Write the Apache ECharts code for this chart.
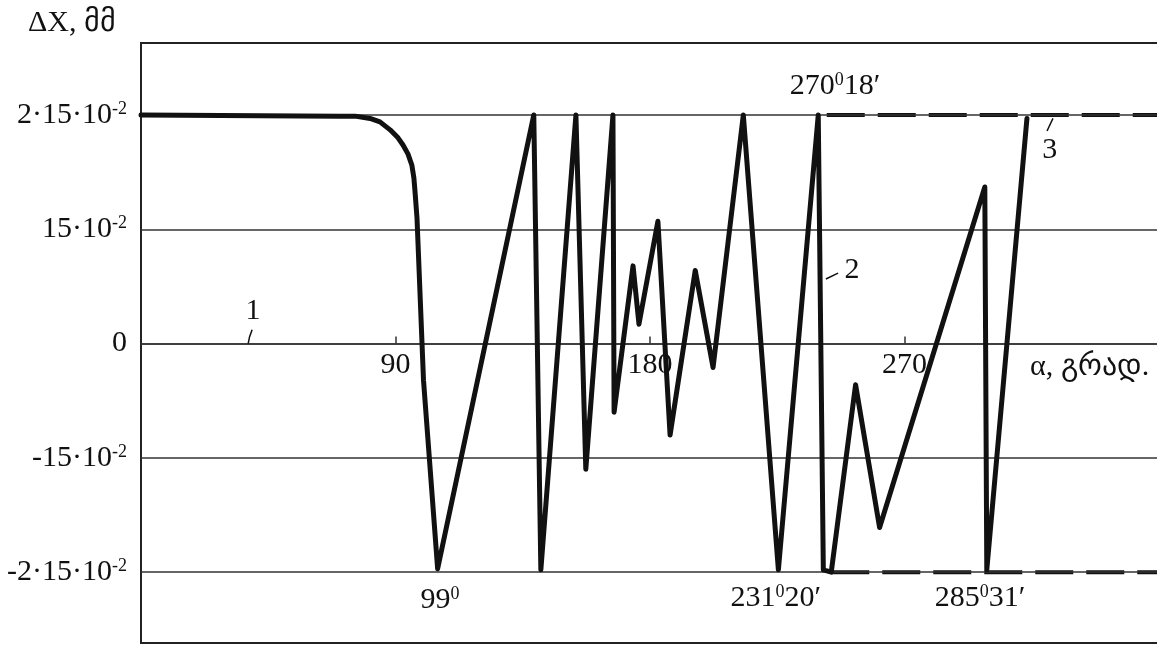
<!DOCTYPE html>
<html lang="ka">
<head>
  <meta charset="UTF-8">
  <script src="https://cdn.jsdelivr.net/npm/echarts@6/dist/echarts.min.js"></script>
  <title>ΔX(α)</title>
  <style>
    * {margin: 0; padding: 0;}
    html, body {width: 100%; height: 100%; overflow: hidden; background: #fff;}
    #chart {width: 1157px; height: 646px;}
  </style>
</head>
<body>
  <div id="chart"></div>
<script>
// curves 1-2 (solid): alpha in degrees, dX in units of 15·10^-2
var alpha12 = [0, 70.4, 75.7, 81.0, 84.5, 88.1, 90.9, 92.6, 94.4, 95.8,
  96.5, 96.9, 97.6, 99.9, 104.9,
  138.9, 141.4, 153.8, 157.3, 166.9, 167.3, 174.0, 176.1, 182.8, 187.1,
  196.0, 202.3, 213.0, 225.4, 239.5, 241.3, 244.1, 252.7, 261.2, 298.4,
  299.1, 313.3]
var dx12 = [2, 1.99, 1.99, 1.97, 1.94, 1.87, 1.80, 1.74, 1.66, 1.56,
  1.45, 1.33, 1.10, -0.32, -1.97,
  2, -1.98, 2, -1.1, 2, -0.6, 0.68, 0.17, 1.07, -0.8,
  0.64, -0.21, 2, -1.98, 2, -1.98, -2, -0.36, -1.61, 1.37,
  -1.98, 1.97]
// curve 3 (dashed limits)
var alpha3top = [242.5, 360]
var dx3top = [2, 2]
var alpha3bot = [244.1, 360]
var dx3bot = [-2, -2]

var yTicks = [2, 1, 0, -1, -2]
var yTickLabels = ['2·15·10{s|-2}', '15·10{s|-2}', '0', '-15·10{s|-2}', '-2·15·10{s|-2}']
var xTicks = [90, 180, 270]

var yMin = -2.62
var yMax = 2.63
var gridTop = 43
var gridBottom = 3
var plotH = 646 - gridTop - gridBottom

var serif = '"Liberation Serif", "Times New Roman", serif'
var ink = '#111'
var fs = 30
var supFs = 18

function zip (xs, ys) {
  return xs.map(function (x, i) { return [x, ys[i]] })
}

var option = {
  animation: false,
  grid: {
    left: 141, right: -2, top: gridTop, bottom: gridBottom,
    outerBoundsMode: 'none',
    containLabel: false,
    show: true, borderColor: '#222', borderWidth: 2
  },
  xAxis: {
    type: 'value', min: 0, max: 360,
    position: 'bottom',
    // lift the axis from the frame bottom up to dX = 0
    offset: -plotH * (0 - yMin) / (yMax - yMin),
    axisLine: {show: true, onZero: false, lineStyle: {color: '#333', width: 1.5}},
    axisTick: {show: true, inside: true, length: 7, customValues: xTicks, lineStyle: {color: '#333', width: 1.5}},
    axisLabel: {customValues: xTicks, fontSize: fs, fontFamily: serif, color: ink, margin: 7},
    splitLine: {show: false}
  },
  yAxis: {
    type: 'value', min: yMin, max: yMax,
    axisLine: {show: true, lineStyle: {color: '#222', width: 2}},
    axisTick: {show: false},
    splitLine: {show: false},
    axisLabel: {
      customValues: yTicks,
      fontSize: fs, fontFamily: serif, color: ink, margin: 14,
      formatter: function (v) {
        var i = yTicks.indexOf(Math.round(v))
        return i >= 0 ? yTickLabels[i] : ''
      },
      rich: {s: {fontSize: supFs, fontFamily: serif, color: ink, verticalAlign: 'top'}}
    }
  },
  series: [
    {
      name: 'grid',
      type: 'line',
      data: [],
      silent: true,
      markLine: {
        symbol: 'none',
        silent: true,
        label: {show: false},
        lineStyle: {color: '#333', width: 1.5, type: 'solid'},
        data: yTicks.map(function (v) { return {yAxis: v} })
      }
    },
    {
      name: '1-2',
      type: 'line',
      data: zip(alpha12, dx12),
      showSymbol: false,
      symbol: 'none',
      lineStyle: {color: ink, width: 5, join: 'round', cap: 'round'},
      z: 5
    },
    {
      name: '3',
      type: 'line',
      data: zip(alpha3top, dx3top),
      symbol: 'none',
      lineStyle: {color: ink, width: 4, type: [38, 13]},
      z: 4
    },
    {
      name: '3b',
      type: 'line',
      data: zip(alpha3bot, dx3bot),
      symbol: 'none',
      lineStyle: {color: ink, width: 4, type: [38, 13]},
      z: 4
    }
  ]
}

var chart = echarts.init(document.getElementById('chart'))
chart.setOption(option)

// annotations, anchored in data coordinates
var notes = [
  {text: 'ΔX, მმ', at: [-24.4, 2.80]},
  {text: 'α, გრად.', at: [335.5, -0.21]},
  {text: '99{s|0}', at: [105.7, -2.245]},
  {text: '231{s|0}20′', at: [224.5, -2.23]},
  {text: '285{s|0}31′', at: [296.7, -2.23]},
  {text: '270{s|0}18′', at: [245.4, 2.25]},
  {text: '1', at: [39.6, 0.28]},
  {text: '2', at: [251.4, 0.64]},
  {text: '3', at: [321.4, 1.69]}
]
var leaders = [
  [[39.3, 0.12], [38.4, 0.06], [37.9, 0.0]],
  [[242.2, 0.565], [246.5, 0.617]],
  [[320.4, 1.86], [322.5, 1.97]]
]

function px (p) {
  return chart.convertToPixel({gridIndex: 0}, p)
}

var graphics = []
notes.forEach(function (n) {
  var p = px(n.at)
  graphics.push({
    type: 'text',
    x: p[0], y: p[1],
    z: 10,
    style: {
      text: n.text,
      fontSize: fs,
      fontFamily: serif,
      fill: ink,
      align: 'center',
      verticalAlign: 'middle',
      rich: {s: {fontSize: supFs, fontFamily: serif, fill: ink, verticalAlign: 'top'}}
    }
  })
})
leaders.forEach(function (l) {
  graphics.push({
    type: 'polyline',
    z: 10,
    shape: {points: l.map(px)},
    style: {stroke: ink, lineWidth: 1.5, fill: null}
  })
})
chart.setOption({graphic: graphics})
</script>
</body>
</html>
